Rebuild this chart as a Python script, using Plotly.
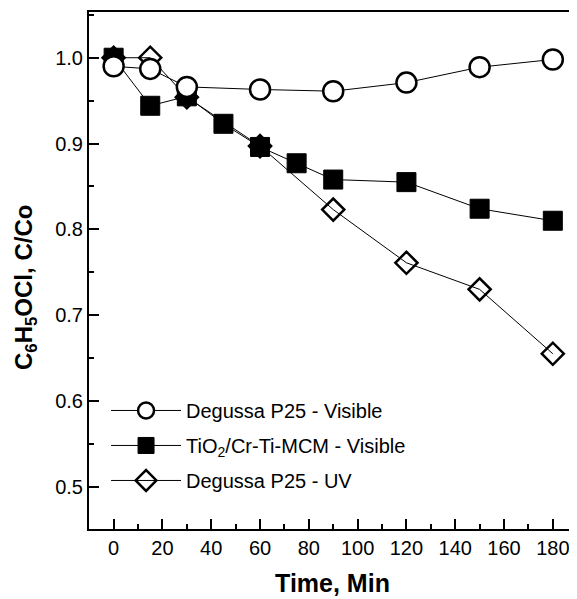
import plotly.graph_objects as go

# Data
t_vis = [0, 15, 30, 60, 90, 120, 150, 180]
c_p25_vis = [0.990, 0.987, 0.966, 0.963, 0.961, 0.971, 0.989, 0.998]

t_mcm = [0, 15, 30, 45, 60, 75, 90, 120, 150, 180]
c_mcm_vis = [1.0, 0.944, 0.955, 0.923, 0.896, 0.877, 0.858, 0.855, 0.824, 0.810]

t_uv = [0, 15, 30, 60, 90, 120, 150, 180]
c_p25_uv = [1.0, 1.0, 0.954, 0.897, 0.823, 0.761, 0.730, 0.655]

names = ["Degussa P25 - Visible", "TiO<sub>2</sub>/Cr-Ti-MCM - Visible", "Degussa P25 - UV"]
x_ticks = list(range(0, 181, 20))
y_ticks = [0.5, 0.6, 0.7, 0.8, 0.9, 1.0]

FONT = "Liberation Sans, Arial, sans-serif"

fig = go.Figure()
# draw order: squares, diamonds, circles (circles on top)
fig.add_trace(go.Scatter(
    x=t_mcm, y=c_mcm_vis, name=names[1], mode="lines+markers",
    line=dict(color="black", width=1),
    marker=dict(symbol="square", size=19, color="black", line=dict(color="black", width=1)),
    legendrank=2, legendgroup="b"))
fig.add_trace(go.Scatter(
    x=t_uv, y=c_p25_uv, name=names[2], mode="lines+markers",
    line=dict(color="black", width=1),
    marker=dict(symbol="diamond-open", size=17, color="black", line=dict(color="black", width=2.5)),
    legendrank=3, legendgroup="c"))
fig.add_trace(go.Scatter(
    x=t_vis, y=c_p25_vis, name=names[0], mode="lines+markers",
    line=dict(color="black", width=1),
    marker=dict(symbol="circle", size=20, color="white", line=dict(color="black", width=2.5)),
    legendrank=1, legendgroup="a"))

# page body has an 8px margin: figure is sized/offset to compensate
fig.update_layout(
    width=569, height=591,
    margin=dict(l=81, r=1, t=4, b=70),
    paper_bgcolor="white", plot_bgcolor="white",
    font=dict(family=FONT, color="black", size=20),
    showlegend=True,
    legend=dict(x=0.035, y=0.267, xanchor="left", yanchor="top",
                bgcolor="rgba(0,0,0,0)", font=dict(size=20),
                itemwidth=70,
                traceorder="grouped", tracegroupgap=6),
    xaxis=dict(range=[-10.1, 189.5], tickvals=x_ticks,
               ticks="inside", ticklen=10, tickwidth=2, tickcolor="black",
               minor=dict(dtick=10, tick0=0, ticks="inside", ticklen=5, tickwidth=2, tickcolor="black"),
               showline=True, linecolor="black", linewidth=2, mirror=True,
               showgrid=False, zeroline=False, automargin=False,
               tickfont=dict(size=20),
               title=dict(text="<b>Time, Min</b>", font=dict(size=25), standoff=16)),
    yaxis=dict(range=[0.4507, 1.0533], tickvals=y_ticks,
               tickformat=".1f",
               ticks="inside", ticklen=10, tickwidth=2, tickcolor="black",
               minor=dict(dtick=0.05, tick0=0.5, ticks="inside", ticklen=5, tickwidth=2, tickcolor="black"),
               showline=True, linecolor="black", linewidth=2, mirror=True,
               showgrid=False, zeroline=False, automargin=False,
               tickfont=dict(size=20)),
    annotations=[dict(
        text="<b>C<sub>6</sub>H<sub>5</sub>OCl, C/Co</b>", textangle=-90,
        xref="paper", yref="paper", x=(26 - 89) / 487, y=(529 - 288) / 517,
        xanchor="center", yanchor="middle", showarrow=False,
        font=dict(size=24, family=FONT, color="black"))],
)

fig.write_html("out.html")
